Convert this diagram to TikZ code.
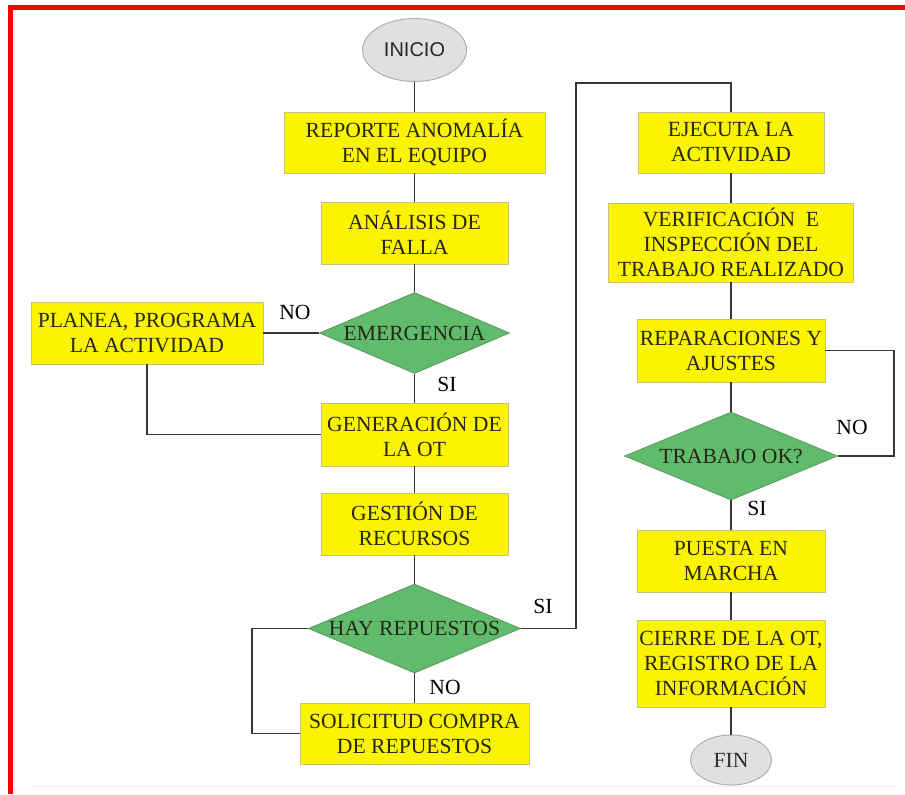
\documentclass[tikz,border=0pt]{standalone}
\usepackage{fontspec}
\setmainfont{Liberation Serif}
\newfontfamily\inifont{Liberation Sans}
\usetikzlibrary{shapes.geometric}
\definecolor{boxyel}{RGB}{250,244,0}
\definecolor{boxedge}{RGB}{200,195,120}
\definecolor{dgreen}{RGB}{96,188,108}
\definecolor{gedge}{RGB}{90,150,95}
\definecolor{txt}{RGB}{40,38,20}
\definecolor{lin}{RGB}{55,55,55}
\definecolor{ovfill}{RGB}{224,224,224}
\definecolor{ovedge}{RGB}{175,175,175}
\definecolor{faint}{RGB}{236,236,236}
\begin{document}
\begin{tikzpicture}[x=0.5pt,y=-0.5pt,
  every node/.style={font=\fontsize{10.8}{12.5}\selectfont, text=txt},
  pbox/.style={rectangle, fill=boxyel, draw=boxedge, line width=0.4pt, align=center, inner sep=0pt},
  dia/.style={diamond, aspect=2.3, fill=dgreen, draw=gedge, line width=0.4pt, inner sep=0pt},
  oval/.style={ellipse, fill=ovfill, draw=ovedge, line width=0.5pt, inner sep=0pt},
  lbl/.style={text=black, inner sep=0pt},
  conn/.style={draw=lin, line width=0.9pt}]
\useasboundingbox (0,0) rectangle (905,794);
% frame
\fill[red] (8,5) rectangle (13,794);
\fill[red] (8,5) rectangle (905,10);
\draw[faint, line width=0.5pt] (32,786) -- (895,786);

% left column
\node[oval, minimum width=52pt, minimum height=31.5pt, font=\inifont\fontsize{10}{12}\selectfont, text={rgb,255:red,40;green,40;blue,40}] (ini) at (414.5,50) {INICIO};
\node[pbox, minimum width=130.5pt, minimum height=30.5pt] (rep) at (414.5,142.5) {REPORTE ANOMALÍA\\EN EL EQUIPO};
\node[pbox, minimum width=93.5pt, minimum height=31pt] (ana) at (414.5,233) {ANÁLISIS DE\\FALLA};
\node[dia, minimum width=95pt, minimum height=40.5pt] (emg) at (414.5,333) {EMERGENCIA};
\node[pbox, minimum width=116pt, minimum height=31pt] (pla) at (147,333) {PLANEA, PROGRAMA\\LA ACTIVIDAD};
\node[pbox, minimum width=93.5pt, minimum height=31.5pt] (gen) at (414.5,434.5) {GENERACIÓN DE\\LA OT};
\node[pbox, minimum width=93.5pt, minimum height=31pt] (ges) at (414.5,524) {GESTIÓN DE\\RECURSOS};
\node[dia, minimum width=106pt, minimum height=44.5pt] (hay) at (414.5,628.5) {HAY REPUESTOS};
\node[pbox, minimum width=114.5pt, minimum height=30.5pt] (sol) at (414.5,733.5) {SOLICITUD COMPRA\\DE REPUESTOS};

% right column
\node[pbox, minimum width=93pt, minimum height=30.5pt] (eje) at (731,142.5) {EJECUTA LA\\ACTIVIDAD};
\node[pbox, minimum width=122.5pt, minimum height=39.5pt] (ver) at (731,242.5) {VERIFICACIÓN\ \ E\\INSPECCIÓN DEL\\TRABAJO REALIZADO};
\node[pbox, minimum width=94pt, minimum height=31.5pt] (repa) at (731,350.5) {REPARACIONES Y\\AJUSTES};
\node[dia, minimum width=106.5pt, minimum height=44pt] (tra) at (731,456) {TRABAJO OK?};
\node[pbox, minimum width=94pt, minimum height=31pt] (pue) at (731,561) {PUESTA EN\\MARCHA};
\node[pbox, minimum width=94pt, minimum height=43.5pt] (cie) at (731,663.5) {CIERRE DE LA OT,\\REGISTRO DE LA\\INFORMACIÓN};
\node[oval, minimum width=40.5pt, minimum height=25pt, text={rgb,255:red,45;green,45;blue,45}] (fin) at (731,760) {FIN};

% bend points
\coordinate (l1) at (252,628.5);
\coordinate (c1) at (576,83);
\coordinate (r1) at (894,350.5);

% connectors
\draw[conn] (ini) -- (rep);
\draw[conn] (rep) -- (ana);
\draw[conn] (ana) -- (emg);
\draw[conn] (emg) -- (gen);
\draw[conn] (gen) -- (ges);
\draw[conn] (ges) -- (hay);
\draw[conn] (hay) -- (sol);
\draw[conn] (emg.west) -- (pla.east);
\draw[conn] (pla.south) |- (gen.west);
\draw[conn] (hay.west) -- (l1) |- (sol.west);
\draw[conn] (hay.east) -| (c1) -| (eje.north);
\draw[conn] (eje) -- (ver);
\draw[conn] (ver) -- (repa);
\draw[conn] (repa) -- (tra);
\draw[conn] (tra) -- (pue);
\draw[conn] (pue) -- (cie);
\draw[conn] (cie) -- (fin);
\draw[conn] (repa.east) -- (r1) |- (tra.east);

% labels
\node[lbl] (noA) at (295,312) {NO};
\node[lbl] (siA) at (447,384) {SI};
\node[lbl] (siB) at (543,606) {SI};
\node[lbl] (noB) at (445,687) {NO};
\node[lbl] (noC) at (852,427) {NO};
\node[lbl] (siC) at (757,508) {SI};
\end{tikzpicture}
\end{document}
